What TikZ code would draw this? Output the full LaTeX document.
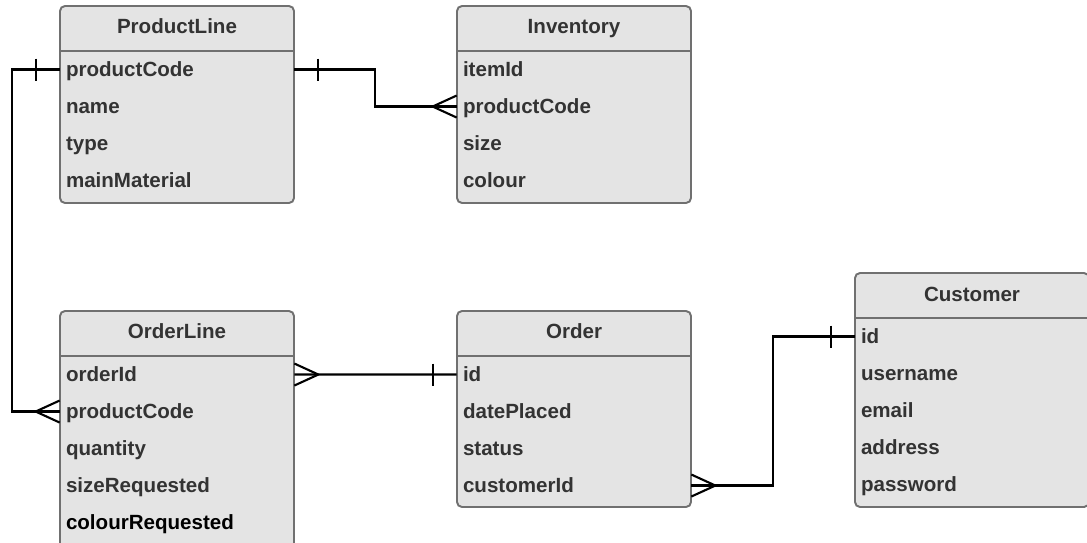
\documentclass[tikz,border=0pt]{standalone}
\usepackage{fontspec}
\setmainfont{Liberation Sans}
\usetikzlibrary{calc}
\definecolor{boxgray}{RGB}{228,228,228}
\definecolor{edgegray}{RGB}{112,112,112}
\definecolor{textgray}{RGB}{51,51,51}

\begin{document}
\begin{tikzpicture}[
        entity/.style={rectangle, draw=edgegray, fill=boxgray, line width=1.1pt, rounded corners=0.1cm, minimum width=4.68cm},
        head/.style={font=\fontsize{11.7}{14}\selectfont\bfseries, text=textgray, inner sep=0pt, text height=8.4pt, text depth=0pt},
        field/.style={font=\fontsize{11.7}{14}\selectfont\bfseries, text=textgray, text width=4.44cm, inner xsep=0.12cm, inner ysep=0pt, align=left, text height=8.4pt, text depth=0pt},
        divider/.style={draw=edgegray, line width=1.1pt},
        rel/.style={draw=black, line width=1.2pt}
    ]
        \useasboundingbox (0,0) rectangle (21.74,10.84);

        % entities
        \node[entity, minimum height=3.94cm] (pl) at (3.54,8.75) {};
        \node[entity, minimum height=3.94cm] (inv) at (11.48,8.75) {};
        \node[entity, minimum height=4.78cm] (ol) at (3.54,2.23) {};
        \node[entity, minimum height=3.92cm] (ord) at (11.48,2.66) {};
        \node[entity, minimum height=4.68cm] (cust) at (19.44,3.04) {};

        \node[head] (pl-h) at ($(pl.north)+(0,-0.42)$) {ProductLine};
        \node[head] (inv-h) at ($(inv.north)+(0,-0.42)$) {Inventory};
        \node[head] (ol-h) at ($(ol.north)+(0,-0.42)$) {OrderLine};
        \node[head] (ord-h) at ($(ord.north)+(0,-0.42)$) {Order};
        \node[head] (cust-h) at ($(cust.north)+(0,-0.44)$) {Customer};

        \foreach \e in {pl,inv,ol,ord,cust}
            \draw[divider] ($(\e.north west)+(0,-0.92)$) -- ($(\e.north east)+(0,-0.92)$);

        % attributes
        \foreach \f [count=\i] in {productCode,name,type,mainMaterial}
            \node[field] (pl-\i) at ($(pl.north)+(0,{-0.55-0.74*\i})$) {\f};
        \foreach \f [count=\i] in {itemId,productCode,size,colour}
            \node[field] (inv-\i) at ($(inv.north)+(0,{-0.55-0.74*\i})$) {\f};
        \foreach \f [count=\i] in {orderId,productCode,quantity,sizeRequested,\textcolor{black}{colourRequested}}
            \node[field] (ol-\i) at ($(ol.north)+(0,{-0.55-0.74*\i})$) {\f};
        \foreach \f [count=\i] in {id,datePlaced,status,customerId}
            \node[field] (ord-\i) at ($(ord.north)+(0,{-0.55-0.74*\i})$) {\f};
        \foreach \f [count=\i] in {id,username,email,address,password}
            \node[field] (cust-\i) at ($(cust.north)+(0,{-0.55-0.74*\i})$) {\f};

        % relationships
        \draw[rel] (pl-1.west) -- ++(-0.96,0) |- (ol-2.west);
        \draw[rel] (pl-1.west) ++(-0.48,0.22) -- ++(0,-0.44);
        \draw[rel] (ol-2.west) ++(-0.48,0) -- ++(0.48,0.22) ++(-0.48,-0.22) -- ++(0.48,-0.22);

        \draw[rel] (pl-1.east) -- ++(1.62,0) |- (inv-2.west);
        \draw[rel] (pl-1.east) ++(0.48,0.22) -- ++(0,-0.44);
        \draw[rel] (inv-2.west) ++(-0.48,0) -- ++(0.48,0.22) ++(-0.48,-0.22) -- ++(0.48,-0.22);

        \draw[rel] (ol-1.east) -- (ord-1.west);
        \draw[rel] (ol-1.east) ++(0.48,0) -- ++(-0.48,0.22) ++(0.48,-0.22) -- ++(-0.48,-0.22);
        \draw[rel] (ord-1.west) ++(-0.48,0.22) -- ++(0,-0.44);

        \draw[rel] (ord-4.east) -- ++(1.64,0) |- (cust-1.west);
        \draw[rel] (ord-4.east) ++(0.48,0) -- ++(-0.48,0.22) ++(0.48,-0.22) -- ++(-0.48,-0.22);
        \draw[rel] (cust-1.west) ++(-0.48,0.22) -- ++(0,-0.44);
    \end{tikzpicture}
\end{document}
